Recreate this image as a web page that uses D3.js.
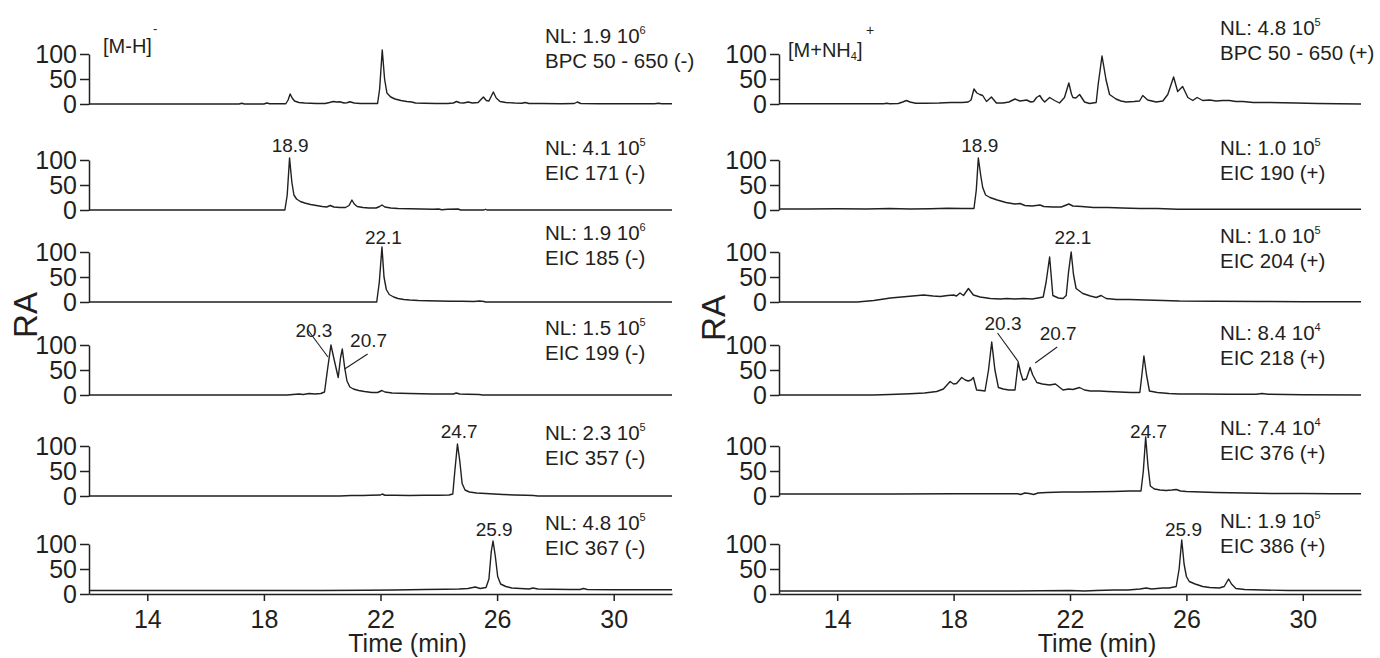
<!DOCTYPE html>
<html>
<head>
<meta charset="utf-8">
<script src="https://cdn.jsdelivr.net/npm/d3@7/dist/d3.min.js"></script>
<style>
  body { margin: 0; background: #fff; }
  svg text { font-family: "Liberation Sans", Arial, sans-serif; fill: #231f20; }
</style>
</head>
<body>
<svg id="chart" width="1380" height="658"></svg>
<script>
const timeDomain = [12, 32];
const timeTicks = [14, 18, 22, 26, 30];
const raTicks = [0, 50, 100];

// ---- negative mode [M-H]- : [time (min), RA %]
const bpcNeg = [[12,0],[17.15,0],[17.24,1.5],[17.33,0],[18.0,0],[18.1,2],[18.2,0.5],[18.75,0.5],[18.83,8],[18.9,20],[18.97,12],[19.05,6],[19.2,3],[19.4,2],[19.6,1.5],[19.8,1],[20.1,1],[20.25,3],[20.38,5],[20.5,4],[20.6,4.5],[20.75,2],[20.85,2.5],[20.95,4.5],[21.1,2],[21.3,1],[21.6,1],[21.9,1],[21.97,30],[22.06,108],[22.14,50],[22.22,22],[22.35,14],[22.5,10],[22.7,7],[22.9,5],[23.07,4],[23.2,2],[23.5,1.5],[23.9,1],[24.3,1],[24.5,2],[24.61,5],[24.72,2.5],[24.85,2],[25.01,4],[25.15,2],[25.35,3],[25.53,14],[25.63,7],[25.72,6],[25.87,24],[25.97,12],[26.1,5],[26.3,3],[26.6,2],[26.85,1.5],[26.96,3],[27.1,1],[27.5,1],[28.2,0.5],[28.65,1],[28.75,4],[28.87,1],[29.5,0.5],[31.4,0.5],[31.53,1.5],[31.65,0.5],[32,0.5]];
const eic171 = [[12,0],[18.72,0],[18.8,30],[18.88,104],[18.96,55],[19.03,30],[19.12,22],[19.25,17],[19.4,14],[19.6,11],[19.8,9],[20.0,7],[20.15,6],[20.28,9],[20.4,6],[20.6,5],[20.8,5],[20.92,9],[21.02,20],[21.1,12],[21.2,7],[21.4,5],[21.6,4],[21.85,4],[21.97,7],[22.05,10],[22.15,6],[22.35,4],[22.6,3],[23.0,2.5],[23.4,2],[23.8,1.5],[24.0,2],[24.1,0.5],[24.3,1.5],[24.66,2],[24.75,0],[25.55,0],[25.6,1.5],[25.65,0],[32,0]];
const eic185 = [[12,0],[21.87,0],[21.96,40],[22.05,110],[22.12,50],[22.2,25],[22.3,15],[22.45,10],[22.6,7],[22.8,5],[23.0,4],[23.3,3],[23.6,2.5],[24.0,2],[24.4,1.5],[24.8,1.5],[25.2,1],[25.4,2],[25.55,1],[25.6,0],[32,0]];
const eic199 = [[12,0],[18.8,0],[19.0,1],[19.2,2],[19.35,1],[19.55,3],[19.75,2],[19.95,3],[20.08,6],[20.18,50],[20.3,100],[20.42,68],[20.55,35],[20.63,75],[20.69,92],[20.77,55],[20.85,28],[20.95,16],[21.07,12],[21.25,9],[21.45,7],[21.7,5],[21.9,5],[22.05,9],[22.15,6],[22.4,4],[22.7,3.5],[23.0,3],[23.4,2.5],[23.8,2],[24.2,2],[24.5,2],[24.6,4],[24.72,2],[25.0,1.5],[25.38,1],[25.5,0],[32,0]];
const eic357 = [[12,0],[20.6,0],[21.0,1],[21.4,1],[21.64,1.5],[22.0,2],[22.06,4],[22.15,1.5],[22.5,1.5],[23.0,1],[23.5,1.5],[24.0,1.5],[24.35,2],[24.48,4],[24.55,50],[24.64,104],[24.72,70],[24.8,25],[24.9,12],[25.05,8],[25.3,6],[25.6,5],[25.9,4],[26.2,3],[26.6,2],[27.0,1.5],[27.25,1],[27.4,0],[32,0]];
const eic367 = [[12,7],[16,7],[20,7],[21.5,7.5],[22.5,8],[23.5,9],[24.2,9.5],[24.7,10],[25.0,11],[25.25,14],[25.42,11],[25.62,13],[25.72,30],[25.8,85],[25.86,106],[25.94,75],[26.02,35],[26.12,20],[26.3,15],[26.5,12],[26.8,11],[27.1,10],[27.23,12],[27.4,10],[27.9,9.5],[28.5,9],[28.85,9],[28.96,11],[29.1,9],[30,8.5],[31,8.5],[32,8.5]];

// ---- positive mode [M+NH4]+
const bpcPos = [[12,0.5],[15.6,0.5],[15.7,1.5],[15.8,0.5],[16.1,1],[16.25,4],[16.38,7],[16.5,4],[16.7,1.5],[17.0,1.5],[17.5,2],[17.9,3],[18.3,3],[18.5,4],[18.6,8],[18.7,30],[18.8,22],[18.9,19],[19.0,17],[19.13,5],[19.3,14],[19.47,2],[19.7,2],[19.9,4],[20.11,10],[20.28,6],[20.4,7],[20.51,8],[20.65,4],[20.75,5],[20.85,13],[20.96,17],[21.05,9],[21.13,4],[21.3,13],[21.47,7],[21.64,2],[21.81,13],[21.96,42],[22.05,20],[22.1,13],[22.2,12],[22.33,19],[22.5,4],[22.67,1],[22.9,3],[22.97,40],[23.1,96],[23.24,48],[23.36,19],[23.58,10],[23.75,6],[23.93,4],[24.2,5],[24.39,6],[24.5,17],[24.67,8],[24.96,4],[25.19,6],[25.36,19],[25.56,54],[25.7,25],[25.87,35],[26.05,13],[26.22,7],[26.37,13],[26.56,7],[26.8,8],[27.02,6],[27.25,7],[27.48,7],[27.7,5],[27.94,5],[28.3,3],[28.8,3],[29.3,2.5],[29.77,2],[30.5,1],[31.2,0.5],[32,0]];
const eic190 = [[12,2],[13,2],[14,2.5],[15,2],[15.8,3],[16.5,2],[17.2,2.5],[17.8,3.5],[18.3,3],[18.7,3],[18.78,40],[18.85,104],[18.93,70],[19.0,45],[19.1,30],[19.25,25],[19.5,20],[19.8,15],[20.1,12],[20.28,13],[20.45,9],[20.7,8],[20.97,10],[21.1,7],[21.4,6],[21.7,6],[21.96,12],[22.1,8],[22.4,7],[22.8,5],[23.3,5],[23.8,4],[24.4,3],[25.0,3],[25.7,1.5],[26.5,1.5],[28,1.5],[30,1.5],[32,1.5]];
const eic204 = [[12,0],[14.69,0],[15.26,3],[15.83,8],[16.4,11],[16.97,14],[17.3,12],[17.54,11],[17.8,13],[18.0,14],[18.1,12],[18.22,18],[18.34,13],[18.51,27],[18.68,14],[18.91,10],[19.26,7],[19.6,6],[19.83,7],[20.1,6],[20.4,7],[20.7,6],[20.9,8],[21.08,10],[21.18,40],[21.3,90],[21.41,13],[21.6,8],[21.76,7],[21.87,13],[21.95,60],[22.04,100],[22.12,55],[22.21,27],[22.44,17],[22.7,12],[22.9,9],[23.07,13],[23.24,7],[23.6,5],[24.04,5],[24.6,4],[25.2,3],[25.76,2],[27,1.5],[28.5,1],[30,0.5],[32,0.5]];
const eic218 = [[12,0],[15.23,0],[15.8,1],[16.5,2.5],[17.0,4],[17.42,7],[17.65,12],[17.88,27],[18.0,22],[18.1,23],[18.28,35],[18.4,30],[18.5,28],[18.6,30],[18.68,35],[18.79,10],[18.95,9],[19.08,8],[19.2,50],[19.31,106],[19.42,50],[19.54,15],[19.7,12],[19.9,10],[20.11,10],[20.22,65],[20.3,45],[20.38,30],[20.5,32],[20.63,55],[20.72,40],[20.86,25],[21.05,22],[21.3,20],[21.5,22],[21.76,10],[21.95,12],[22.1,11],[22.33,15],[22.5,10],[22.7,8],[23.02,8],[23.3,7],[23.7,6],[24.1,5],[24.4,5],[24.47,40],[24.54,78],[24.63,40],[24.73,8],[25.0,5],[25.4,3],[25.76,2],[26.5,2],[27.5,1.5],[28.4,1.5],[28.6,3],[28.8,1.5],[30,0.5],[32,0]];
const eic376 = [[12,4],[14,4],[16,4],[18,4.5],[20.2,4.5],[20.3,3],[20.45,6],[20.6,5],[20.75,3],[20.9,6],[21.2,7],[21.76,8],[22.3,8],[22.9,8.5],[23.5,9],[24.04,10],[24.44,10],[24.52,50],[24.6,118],[24.68,60],[24.76,20],[24.9,14],[25.1,12],[25.3,11],[25.5,12],[25.65,13],[25.8,10],[26.0,9],[26.5,8],[27,7],[28,6],[29,5],[30,5],[31,4.5],[32,4.5]];
const eic386 = [[12,6],[15,6],[18,6],[20,6],[21,6.5],[22,7],[22.5,6],[22.9,7],[23.5,8],[24.0,8],[24.4,10],[24.62,12],[24.8,10],[25.0,11],[25.19,12],[25.4,12],[25.65,15],[25.75,50],[25.84,108],[25.92,60],[26.0,35],[26.1,25],[26.3,20],[26.56,15],[26.8,13],[27.13,12],[27.3,15],[27.45,30],[27.55,20],[27.7,11],[28.0,9],[28.6,8],[29.5,7],[30.5,7],[32,7]];

const negSeries = [bpcNeg, eic171, eic185, eic199, eic357, eic367];
const negNames = ["BPC 50 - 650 (-)", "EIC 171 (-)", "EIC 185 (-)", "EIC 199 (-)", "EIC 357 (-)", "EIC 367 (-)"];
const negNL = ["1.9", "4.1", "1.9", "1.5", "2.3", "4.8"];
const negExp = ["6", "5", "6", "5", "5", "5"];
const negPeaks = [[1, 18.9], [2, 22.1], [4, 24.7], [5, 25.9]];
const negPair = [20.3, 20.7];

const posSeries = [bpcPos, eic190, eic204, eic218, eic376, eic386];
const posNames = ["BPC 50 - 650 (+)", "EIC 190 (+)", "EIC 204 (+)", "EIC 218 (+)", "EIC 376 (+)", "EIC 386 (+)"];
const posNL = ["4.8", "1.0", "1.0", "8.4", "7.4", "1.9"];
const posExp = ["5", "5", "5", "4", "4", "5"];
const posPeaks = [[1, 18.9], [2, 22.1], [4, 24.7], [5, 25.9]];
const posPair = [20.3, 20.7];

// layout
const rowZero = [104, 210, 302, 395, 496, 594];
const rowH = 50;
const ink = "#231f20";

const svg = d3.select("#chart");

function drawPanel(p) {
  const x = d3.scaleLinear().domain(timeDomain).range([p.left, p.right]);
  const g = svg.append("g");

  p.series.forEach((data, i) => {
    const y = d3.scaleLinear().domain([0, 100]).range([rowZero[i], rowZero[i] - rowH]);

    const ax = g.append("g")
      .attr("transform", `translate(${p.left},0)`)
      .call(d3.axisLeft(y).tickValues(raTicks).tickSize(9).tickPadding(3).tickSizeOuter(0));
    ax.selectAll("path, line").attr("stroke", ink).attr("stroke-width", 1.5);
    ax.selectAll("text").attr("font-size", 25).attr("fill", ink)
      .style("font-family", '"Liberation Sans", Arial, sans-serif');

    g.append("path")
      .datum(data)
      .attr("fill", "none")
      .attr("stroke", ink)
      .attr("stroke-width", 1.4)
      .attr("stroke-linejoin", "round")
      .attr("d", d3.line().x(d => x(d[0])).y(d => y(d[1])));

    const lab = g.append("text").attr("x", p.labelX).attr("y", p.labelY[i]).attr("font-size", 20.5);
    lab.append("tspan").text(`NL: ${p.nl[i]} 10`);
    lab.append("tspan").text(p.exp[i]).attr("font-size", 11).attr("dy", -9);
    g.append("text").attr("x", p.labelX).attr("y", p.labelY[i] + 25).attr("font-size", 20.5).text(p.names[i]);
  });

  // single peak labels
  p.peaks.forEach(([row, t]) => {
    const y100 = rowZero[row] - rowH;
    g.append("text").attr("x", x(t)).attr("y", y100 - 8)
      .attr("text-anchor", "middle").attr("font-size", 19).text(t.toFixed(1));
  });

  // double peak with leader lines (row 4)
  const y100 = rowZero[3] - rowH;
  p.pairLayout.forEach((L, k) => {
    const px = x(p.pair[k]);
    g.append("text").attr("x", px + L.tx).attr("y", y100 + L.ty)
      .attr("text-anchor", "middle").attr("font-size", 19).text(p.pair[k].toFixed(1));
    g.append("line")
      .attr("x1", px + L.l[0]).attr("y1", y100 + L.l[1])
      .attr("x2", px + L.l[2]).attr("y2", y100 + L.l[3])
      .attr("stroke", ink).attr("stroke-width", 1.1);
  });

  // time axis at the bottom row
  const xa = g.append("g")
    .attr("transform", `translate(0,${rowZero[5]})`)
    .call(d3.axisBottom(x).tickValues(timeTicks).tickSize(7).tickPadding(9).tickSizeOuter(0));
  xa.selectAll("path, line").attr("stroke", ink).attr("stroke-width", 1.5);
  xa.selectAll("text").attr("font-size", 25).attr("fill", ink)
    .style("font-family", '"Liberation Sans", Arial, sans-serif');

  g.append("text").attr("x", (p.left + p.right) / 2 + 27).attr("y", 652)
    .attr("text-anchor", "middle").attr("font-size", 25).text("Time (min)");

  g.append("text")
    .attr("transform", `translate(${p.raX},${p.raY}) rotate(-90)`)
    .attr("text-anchor", "middle").attr("font-size", 33).text("RA");

  p.title(g);
}

drawPanel({
  left: 89, right: 672,
  series: negSeries, names: negNames, nl: negNL, exp: negExp,
  labelX: 545, labelY: [43, 155, 240, 335, 440, 530],
  peaks: negPeaks, pair: negPair,
  pairLayout: [
    { tx: -17, ty: -8, l: [-23, -15, -3, 12] },
    { tx: 26, ty: 2, l: [25, 9, 2, 24] }
  ],
  raX: 37, raY: 315,
  title: g => {
    const t = g.append("text").attr("x", 103).attr("y", 53).attr("font-size", 20);
    t.append("tspan").text("[M-H]");
    t.append("tspan").text("-").attr("font-size", 13).attr("x", 153).attr("dy", -20);
  }
});

drawPanel({
  left: 779, right: 1361,
  series: posSeries, names: posNames, nl: posNL, exp: posExp,
  labelX: 1220, labelY: [35, 155, 243, 340, 435, 528],
  peaks: posPeaks, pair: posPair,
  pairLayout: [
    { tx: -17.5, ty: -15, l: [-23, -12, -2, 17] },
    { tx: 26, ty: -5, l: [25, 2, 3, 18] }
  ],
  raX: 725, raY: 318,
  title: g => {
    const t = g.append("text").attr("x", 788).attr("y", 57).attr("font-size", 20);
    t.append("tspan").text("[M+NH");
    t.append("tspan").text("4").attr("font-size", 11).attr("dy", 3);
    t.append("tspan").text("]").attr("dy", -3);
    t.append("tspan").text("+").attr("font-size", 14).attr("x", 866).attr("dy", -22);
  }
});
</script>
</body>
</html>
